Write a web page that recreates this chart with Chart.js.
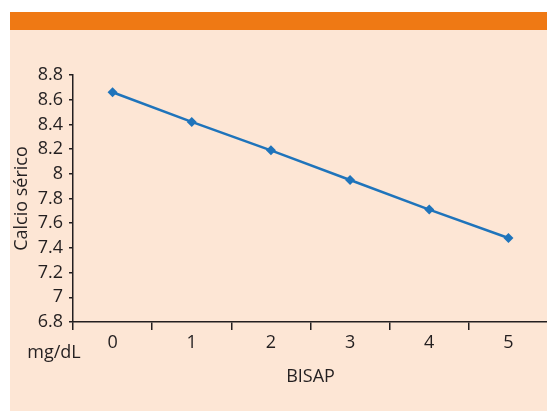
<!DOCTYPE html>
<html>
<head>
<meta charset="utf-8">
<script src="https://cdn.jsdelivr.net/npm/chart.js@4.4.0/dist/chart.umd.min.js"></script>
<style>
  html, body { margin: 0; padding: 0; background: #ffffff; overflow: hidden; }
  #panel {
    position: absolute; left: 10px; top: 12px; width: 537px; height: 399px;
    background: #fde6d5;
  }
  #bar { position: absolute; left: 0; top: 0; width: 100%; height: 18px; background: #ef7914; }
  #wrap { position: absolute; left: 0; top: 0; width: 547px; height: 411px; overflow: hidden; }
</style>
</head>
<body>
<div id="panel"><div id="bar"></div></div>
<div id="wrap"><canvas id="chart" width="553" height="411"></canvas></div>
<script>
// BISAP score vs serum calcium
const bisapScores = ['0', '1', '2', '3', '4', '5'];
const calcioSerico = [8.66, 8.42, 8.19, 7.95, 7.71, 7.48];
const yTicks = { min: 6.8, max: 8.8, step: 0.2 };

const textColor = '#231f20';
const fontFamily = "'Open Sans', sans-serif";

// unit label under the y axis
const unitLabel = {
    id: 'unitLabel',
    afterDraw(chart) {
        const { ctx, chartArea } = chart;
        ctx.save();
        ctx.fillStyle = textColor;
        ctx.font = '18px ' + fontFamily;
        ctx.textAlign = 'center';
        ctx.textBaseline = 'middle';
        ctx.fillText('mg/dL', chartArea.left - 19, chartArea.bottom + 31);
        ctx.restore();
    }
};

new Chart(document.getElementById('chart'), {
    type: 'line',
    data: {
        labels: bisapScores,
        datasets: [{
            data: calcioSerico,
            borderColor: '#1f74bb',
            backgroundColor: '#1f74bb',
            borderWidth: 2.5,
            tension: 0,
            pointStyle: 'rectRot',
            pointRadius: 5,
            pointBorderWidth: 0,
            pointBackgroundColor: '#1f74bb'
        }]
    },
    options: {
        responsive: false,
        animation: false,
        layout: { padding: { left: 11, top: 75, right: 0, bottom: 23 } },
        plugins: { legend: { display: false }, tooltip: { enabled: false } },
        scales: {
            x: {
                offset: true,
                grid: { offset: true, drawOnChartArea: false, tickLength: 8, color: '#231f20', lineWidth: 1.5 },
                border: { color: '#231f20', width: 1.5 },
                ticks: { color: textColor, font: { family: fontFamily, size: 18 }, padding: 2 },
                title: { display: true, text: 'BISAP', color: textColor, font: { family: fontFamily, size: 18 }, padding: 0 },
                afterFit(scale) { scale.height = 66; }
            },
            y: {
                min: yTicks.min,
                max: yTicks.max,
                grid: { drawOnChartArea: false, tickLength: 4, color: '#231f20', lineWidth: 1.5 },
                border: { color: '#231f20', width: 1.5 },
                ticks: {
                    stepSize: yTicks.step,
                    color: textColor,
                    padding: 6,
                    font: { family: fontFamily, size: 18 },
                    callback: v => Number(v.toFixed(1)).toString()
                },
                title: { display: true, text: 'Calcio sérico', color: textColor, font: { family: fontFamily, size: 18 }, padding: 0 },
                afterFit(scale) { scale.width = 62; }
            }
        }
    },
    plugins: [unitLabel]
});
</script>
</body>
</html>
